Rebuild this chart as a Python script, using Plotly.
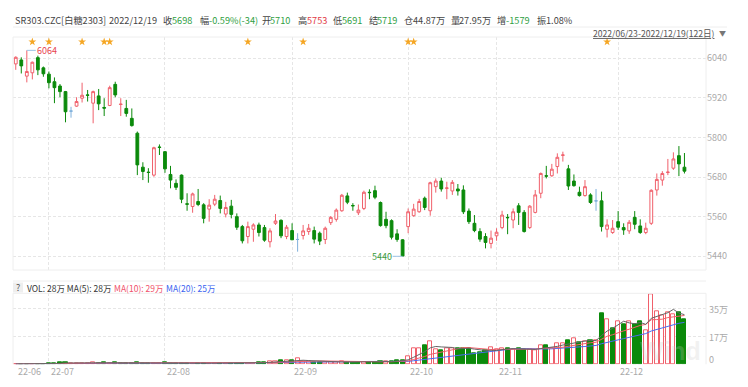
import plotly.graph_objects as go
import pandas as pd

# ---------------- data ----------------
opens = [6023,6035,5986,5996,6042,6011,5992,5969,5956,5939,5880,5895,5919,5929,5904,5926,5891,5897,5961,5900,
         5888,5858,5813,5710,5695,5686,5771,5757,5688,5661,5686,5599,5591,5606,5596,5583,5598,5609,5568,5592,
         5560,5530,5500,5522,5535,5527,5484,5540,5549,5500,5518,5491,5503,5515,5518,5510,5491,5542,5552,5578,
         5623,5594,5572,5585,5634,5639,5603,5552,5548,5508,5490,5530,5563,5575,5616,5578,5651,5668,5646,5638,
         5644,5641,5577,5540,5515,5500,5479,5502,5527,5558,5550,5593,5573,5527,5573,5631,5684,5684,5712,5746,
         5705,5668,5634,5624,5626,5608,5608,5522,5512,5545,5527,5517,5558,5532,5512,5540,5641,5671,5694,5707,
         5745,5710]
highs = [6046,6043,6064,6030,6048,6015,6000,5982,5962,5941,5893,5922,5966,5944,5942,5947,5919,5957,5969,5919,
         5914,5888,5818,5725,5707,5772,5779,5759,5714,5673,5688,5631,5633,5644,5601,5613,5626,5624,5605,5611,
         5570,5535,5545,5540,5542,5535,5525,5568,5552,5535,5540,5510,5535,5538,5530,5515,5530,5562,5585,5629,
         5633,5601,5597,5639,5643,5654,5606,5575,5552,5522,5492,5585,5599,5614,5621,5666,5676,5678,5666,5671,
         5659,5655,5585,5565,5525,5510,5518,5525,5578,5568,5585,5601,5580,5595,5641,5694,5714,5720,5752,5757,
         5717,5688,5651,5671,5631,5644,5636,5552,5550,5577,5540,5550,5577,5552,5542,5643,5691,5698,5735,5755,
         5774,5753]
lows = [6005,5994,5967,5976,5989,5984,5949,5904,5922,5846,5860,5893,5906,5909,5843,5883,5865,5895,5922,5865,
        5863,5833,5686,5671,5663,5681,5747,5693,5646,5641,5601,5578,5572,5592,5540,5545,5592,5570,5558,5555,
        5520,5479,5479,5484,5500,5484,5467,5535,5495,5492,5490,5454,5491,5505,5479,5474,5477,5535,5545,5575,
        5598,5578,5565,5580,5613,5613,5530,5525,5491,5484,5440,5510,5560,5572,5580,5563,5633,5636,5613,5626,
        5624,5568,5538,5513,5484,5464,5464,5487,5522,5507,5525,5535,5512,5523,5570,5616,5676,5681,5691,5727,
        5641,5651,5621,5621,5599,5578,5515,5497,5508,5520,5505,5508,5522,5508,5507,5535,5624,5654,5686,5702,
        5683,5691]
closes = [6043,6017,6000,6028,6005,5993,5966,5951,5939,5878,5880,5909,5928,5928,5939,5902,5889,5951,5929,5901,
          5873,5836,5717,5697,5694,5769,5770,5705,5671,5649,5613,5598,5629,5597,5555,5595,5613,5585,5588,5567,
          5528,5487,5530,5535,5512,5489,5517,5547,5502,5528,5490,5491,5517,5525,5492,5486,5525,5558,5580,5625,
          5604,5593,5580,5634,5633,5619,5533,5533,5498,5491,5441,5575,5583,5606,5588,5663,5668,5644,5647,5664,
          5638,5575,5545,5518,5492,5482,5495,5513,5565,5557,5575,5573,5515,5592,5626,5691,5683,5704,5740,5747,
          5653,5654,5624,5651,5603,5608,5530,5535,5525,5528,5520,5543,5537,5512,5525,5640,5673,5691,5695,5735,
          5720,5698]
# volume in 万 (10k lots)
volumes = [0.2,0.2,0.3,0.2,0.3,0.3,
           0.6,0.8,1.0,1.4,0.6,0.7,0.7,0.6,1.0,0.7,1.3,0.8,1.0,0.7,0.8,0.8,1.4,0.8,0.8,0.7,0.6,1.0,0.8,
           0.7,0.8,0.7,0.6,0.7,0.8,0.7,0.7,0.8,0.7,0.7,0.8,0.9,0.8,0.9,1.0,
           1.5,2.0,2.0,2.6,2.3,2.2,3.6,2.0,
           1.6,1.4,1.5,1.4,1.3,1.5,1.6,1.4,1.3,1.4,1.5,1.4,1.5,1.8,1.9,2.0,2.2,2.6,
           5.2,10.0,10.0,11.6,14.6,9.6,8.5,9.8,10.2,10.2,10.2,9.8,7.1,7.7,8.5,10.6,9.2,9.8,10.2,9.2,
           9.8,9.2,9.6,8.7,11.9,11.9,10.2,13.3,12.9,15.2,16.5,13.7,14.4,
           14.8,14.8,32.1,27.9,22.7,26.9,25.2,26.9,25.0,26.9,21.0,44.0,33.1,30.6,32.7,31.4,32.5,27.95]

month_labels = ["22-06", "22-07", "22-08", "22-09", "22-10", "22-11", "22-12"]
month_start_idx = [0, 6, 27, 50, 71, 87, 109]
star_days = [3, 6, 12, 16, 17, 42, 52, 71, 72, 107]
price_ticks = [5440, 5560, 5680, 5800, 5920, 6040]
vol_ticks = [0, 17.5, 35]
vol_ticktext = ["35万", "17万", "0"]

n = len(closes)
assert len(opens) == n == len(highs) == len(lows) == len(volumes)
idx = list(range(n))

W, H = 748, 387
def px(x): return x / W
def py(y): return 1 - y / H

RED = "#f0606b"
GREEN = "#0b8a0b"
BLUE = "#7fb0dc"
GRID = "#e6e6e6"
FONT = "Noto Sans CJK SC"

fig = go.Figure()

norm = [i for i in idx if opens[i] != closes[i]]
doji = [i for i in idx if opens[i] == closes[i]]
fig.add_trace(go.Candlestick(
    x=norm, open=[opens[i] for i in norm], high=[highs[i] for i in norm],
    low=[lows[i] for i in norm], close=[closes[i] for i in norm],
    increasing=dict(line=dict(color=RED, width=1), fillcolor="white"),
    decreasing=dict(line=dict(color=GREEN, width=1), fillcolor=GREEN),
    xaxis="x", yaxis="y", hoverinfo="skip", showlegend=False))
fig.add_trace(go.Candlestick(
    x=doji, open=[opens[i] for i in doji], high=[highs[i] for i in doji],
    low=[lows[i] for i in doji], close=[closes[i] for i in doji],
    increasing=dict(line=dict(color=BLUE, width=1), fillcolor=BLUE),
    decreasing=dict(line=dict(color=BLUE, width=1), fillcolor=BLUE),
    xaxis="x", yaxis="y", hoverinfo="skip", showlegend=False))

fig.add_trace(go.Scatter(x=star_days, y=[6090] * len(star_days), mode="markers",
                         marker=dict(symbol="star", size=6, color="#f5a623", line=dict(width=0)),
                         xaxis="x", yaxis="y", hoverinfo="skip", showlegend=False))

up = [True] + [closes[i] >= closes[i - 1] for i in idx[1:]]
fig.add_trace(go.Bar(x=idx, y=volumes, width=0.74,
                     marker=dict(color=["white" if u else GREEN for u in up],
                                 line=dict(color=[RED if u else GREEN for u in up], width=1)),
                     xaxis="x2", yaxis="y2", hoverinfo="skip", showlegend=False))

vs = pd.Series(volumes)
for w, col in [(20, "#4a6cf0"), (10, "#f0606b"), (5, "#666666")]:
    fig.add_trace(go.Scatter(x=idx, y=vs.rolling(w, min_periods=1).mean(), mode="lines",
                             line=dict(color=col, width=1), xaxis="x2", yaxis="y2",
                             hoverinfo="skip", showlegend=False))

xdom = [px(13), px(706)]
common_x = dict(domain=xdom, range=[-0.5, 124.9], tickvals=month_start_idx[1:], showticklabels=False,
                showgrid=True, gridcolor=GRID, griddash="3px,2px", zeroline=False, ticks="",
                showline=False, fixedrange=True)
fig.update_layout(
    width=W, height=H, margin=dict(l=0, r=0, t=0, b=0, autoexpand=False),
    paper_bgcolor="white", plot_bgcolor="white",
    font=dict(family=FONT, size=10, color="#333"),
    boxgap=0.28, bargap=0, barmode="overlay",
    xaxis=dict(anchor="y", rangeslider=dict(visible=False), **common_x),
    xaxis2=dict(anchor="y2", matches="x", **common_x),
    yaxis=dict(domain=[py(270), py(37)], range=[5398.5, 6104.5], tickvals=price_ticks, side="right",
               showgrid=True, gridcolor=GRID, griddash="3px,2px", zeroline=False, ticks="",
               tickfont=dict(size=9, color="#aaaaaa", family=FONT), fixedrange=True, automargin=False),
    yaxis2=dict(domain=[py(364.3), py(293.3)], range=[0, 44.4], tickvals=vol_ticks, showticklabels=False,
                side="right", showgrid=True, gridcolor=GRID, griddash="3px,2px", zeroline=False, ticks="",
                fixedrange=True, automargin=False),
)

shapes = []
def hline(y, x0=13, x1=706, color="#eeeeee"):
    shapes.append(dict(type="line", xref="paper", yref="paper", x0=px(x0), x1=px(x1), y0=py(y), y1=py(y),
                       line=dict(color=color, width=1)))
def vline(x, y0, y1, color="#eeeeee"):
    shapes.append(dict(type="line", xref="paper", yref="paper", x0=px(x), x1=px(x), y0=py(y0), y1=py(y1),
                       line=dict(color=color, width=1)))
hline(27, 13, 727)
hline(37)
hline(270)
hline(281)
hline(293.3)
vline(13, 37, 270); vline(706, 37, 270)
vline(13, 293.3, 364.3); vline(706, 293.3, 364.3)
shapes.append(dict(type="rect", xref="paper", yref="paper", x0=px(13), x1=px(23), y0=py(292.5), y1=py(282.5),
                   fillcolor="#eeeeee", line=dict(width=0)))
fig.update_layout(shapes=shapes)

ann = []
def text(x, y, t, color="#444", size=10, anchor="left"):
    ann.append(dict(x=px(x), y=py(y), xref="paper", yref="paper", text=t, showarrow=False,
                    xanchor=anchor, yanchor="middle", font=dict(size=size, color=color, family=FONT)))

# watermark
ann.append(dict(x=px(703), y=py(351), xref="paper", yref="paper", text="<b>Wind</b>", showarrow=False,
                xanchor="right", yanchor="middle",
                font=dict(size=25, color="rgba(200,200,200,0.25)", family="Liberation Sans")))

HG = "#2f9e3f"
HR = "#e23a44"
header = [(14, "SR303.CZC[白糖2303]", "#444"), (108, "2022/12/19", "#444"),
          (162, "收", "#444"), (171, "5698", HG),
          (199, "幅", "#444"), (208, "-0.59%(-34)", HG),
          (261, "开", "#444"), (269, "5710", HG),
          (297, "高", "#444"), (306, "5753", HR),
          (332, "低", "#444"), (341, "5691", HG),
          (368, "结", "#444"), (376, "5719", HG),
          (403, "仓", "#444"), (412, "44.87万", "#444"),
          (450, "量", "#444"), (458, "27.95万", "#444"),
          (496, "增", "#444"), (505, "-1579", HG),
          (536, "振", "#444"), (545, "1.08%", "#444")]
for x, t, c in header:
    text(x - 1, 20.5, t, c, 9.2)

text(717, 33, "<u>2022/06/23-2022/12/19(122日)</u>", "#555", 8.6, "right")
text(717, 33, "▼", "#777", 7)

text(18, 287.5, "?", "#555", 9, "center")
text(25, 287.5, "VOL: 28万 MA(5): 28万", "#333", 8.5)
text(112, 287.5, "MA(10): 29万", "#f0506a", 8.5)
text(164, 287.5, "MA(20): 25万", "#3a5ff0", 8.5)

for yy, t in zip([309, 337, 359], vol_ticktext):
    text(707, yy, t, "#aaaaaa", 9)

for i, lab in zip(month_start_idx, month_labels):
    ann.append(dict(x=i, y=py(371.5), xref="x2", yref="paper", text=lab, showarrow=False,
                    xanchor="left", yanchor="middle", xshift=0,
                    font=dict(size=9, color="#aaaaaa", family=FONT)))

hi_i = highs.index(max(highs))
lo_i = lows.index(min(lows))
ann.append(dict(x=hi_i, y=highs[hi_i], xref="x", yref="y", text=str(max(highs)), showarrow=True,
                arrowhead=0, arrowwidth=1, arrowcolor="#9cc3e6", ax=9, ay=0, xanchor="left",
                font=dict(size=9, color="#e8454f", family=FONT), borderpad=0))
ann.append(dict(x=lo_i, y=lows[lo_i], xref="x", yref="y", text=str(min(lows)), showarrow=True,
                arrowhead=0, arrowwidth=1, arrowcolor="#9cc3e6", ax=-10, ay=0, xanchor="right",
                font=dict(size=9, color="#3a9a3a", family=FONT), borderpad=0))

fig.update_layout(annotations=ann)
fig.write_html("out.html", config={"displayModeBar": False},
               post_script="document.body.style.margin='0';document.body.style.padding='0';"
                           "document.body.style.overflow='hidden';")
